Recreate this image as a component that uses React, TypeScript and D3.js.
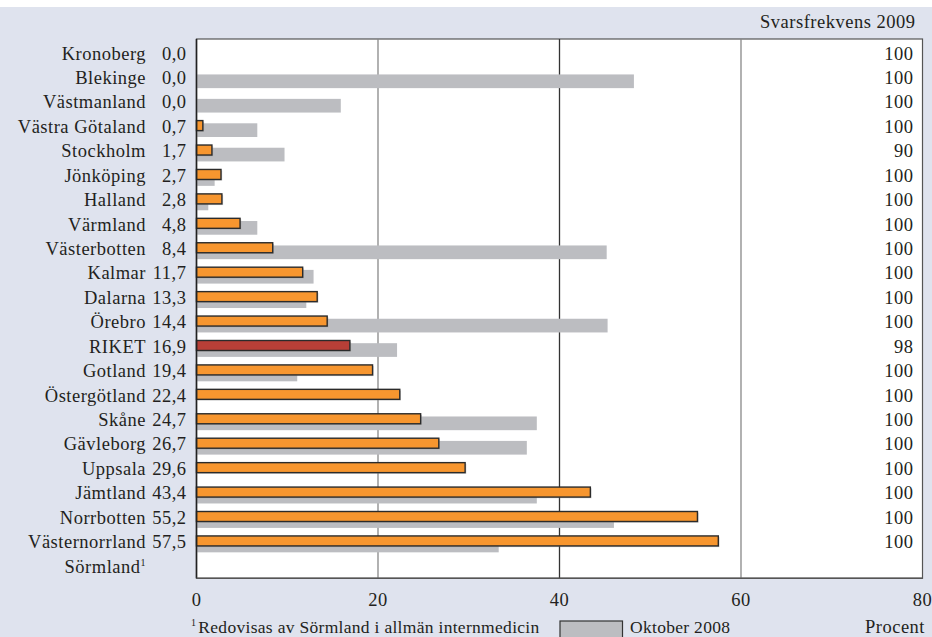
import React from "react";
import * as d3 from "d3";

const regions = ["Kronoberg","Blekinge","Västmanland","Västra Götaland","Stockholm","Jönköping","Halland","Värmland","Västerbotten","Kalmar","Dalarna","Örebro","RIKET","Gotland","Östergötland","Skåne","Gävleborg","Uppsala","Jämtland","Norrbotten","Västernorrland","Sörmland"];
const values2009: (number | null)[] = [0,0,0,0.7,1.7,2.7,2.8,4.8,8.4,11.7,13.3,14.4,16.9,19.4,22.4,24.7,26.7,29.6,43.4,55.2,57.5,null];
const values2008: (number | null)[] = [null,48.2,15.9,6.7,9.7,2.0,1.3,6.7,45.2,12.9,12.1,45.3,22.1,11.1,null,37.5,36.4,null,37.5,46.0,33.3,null];
const response2009: (number | null)[] = [100,100,100,100,90,100,100,100,100,100,100,100,98,100,100,100,100,100,100,100,100,null];
const xTicks = [0,20,40,60,80];

const W = 932, H = 637;
const FONT = "'Liberation Serif', 'Times New Roman', serif";

export default function App() {
  const x = d3.scaleLinear().domain([0, 80]).range([196.5, 922.5]);
  const y = d3.scaleBand<string>().domain(regions).range([40, 577.5]).paddingInner(0).paddingOuter(0);
  const plotTop = 39, plotBottom = 578.3;
  const fmt = (v: number) => v.toFixed(1).replace(".", ",");
  const txt = { fontFamily: FONT, fontSize: 18.5, fill: "#231f20", letterSpacing: 0.5 } as const;
  const small = { fontFamily: FONT, fontSize: 17.5, fill: "#231f20", letterSpacing: 0.3 } as const;

  return (
    <svg width={W} height={H} style={{ position: "absolute", left: 0, top: 0, display: "block" }}>
      <rect x={0} y={0} width={W} height={H} fill="#ffffff" />
      <rect x={0} y={7} width={W} height={H - 7} fill="#dfe3ee" />
      <rect x={x(0)} y={plotTop} width={x(80) - x(0)} height={plotBottom - plotTop} fill="#ffffff" stroke="#555" strokeWidth={1.2} />
      {xTicks.slice(1, -1).map((t) => (
        <line key={t} x1={x(t)} x2={x(t)} y1={plotTop} y2={plotBottom} stroke={t === 40 ? "#333" : "#888"} strokeWidth={1.3} />
      ))}
      {regions.map((r, i) => {
        const v = values2008[i];
        if (v == null) return null;
        const y0 = (y(r) as number) + 10;
        return <rect key={"g" + r} x={x(0)} y={y0} width={x(v) - x(0)} height={13.7} fill="#bcbdc1" />;
      })}
      {regions.map((r, i) => {
        const v = values2009[i];
        if (v == null) return null;
        const y0 = (y(r) as number) + 7.3;
        const w = x(v) - x(0);
        return (
          <g key={"o" + r}>
            {w > 0 && <rect x={x(0) + 1.2} y={y0 + 1.2} width={w} height={10} fill="#9a9a9a" opacity={0.45} />}
            <rect x={x(0)} y={y0} width={w} height={10} fill={r === "RIKET" ? "#b83f37" : "#f7962f"} stroke="#2b2b2b" strokeWidth={1.4} />
          </g>
        );
      })}
      <line x1={x(0)} x2={x(0)} y1={plotTop} y2={plotBottom} stroke="#222" strokeWidth={1.6} />
      <line x1={x(0)} x2={x(80)} y1={plotBottom} y2={plotBottom} stroke="#555" strokeWidth={1.4} />
      {regions.map((r, i) => {
        const base = (y(r) as number) + 19.5;
        const v = values2009[i];
        const resp = response2009[i];
        return (
          <g key={"t" + r}>
            {r === "Sörmland" ? (
              <text x={146} y={base} textAnchor="end" {...txt}>
                {r}
                <tspan fontSize={10} dy={-7}>1</tspan>
              </text>
            ) : (
              <text x={146} y={base} textAnchor="end" {...txt}>{r}</text>
            )}
            {v != null && <text x={186.5} y={base} textAnchor="end" {...txt}>{fmt(v)}</text>}
            {resp != null && <text x={913.5} y={base} textAnchor="end" {...txt}>{resp}</text>}
          </g>
        );
      })}
      <text x={915.5} y={28} textAnchor="end" {...txt}>Svarsfrekvens 2009</text>
      {xTicks.map((t) => (
        <text key={"xt" + t} x={x(t)} y={606} textAnchor="middle" {...txt}>{t}</text>
      ))}
      <text x={191} y={633} {...small}>
        <tspan fontSize={10} dy={-7}>1</tspan>
        <tspan dy={7} dx={2}>Redovisas av Sörmland i allmän internmedicin</tspan>
      </text>
      <rect x={560} y={621} width={62.5} height={20} fill="#bcbdc1" stroke="#333" strokeWidth={1.2} />
      <text x={630} y={633} {...small}>Oktober 2008</text>
      <text x={925} y={633} textAnchor="end" {...txt}>Procent</text>
    </svg>
  );
}
